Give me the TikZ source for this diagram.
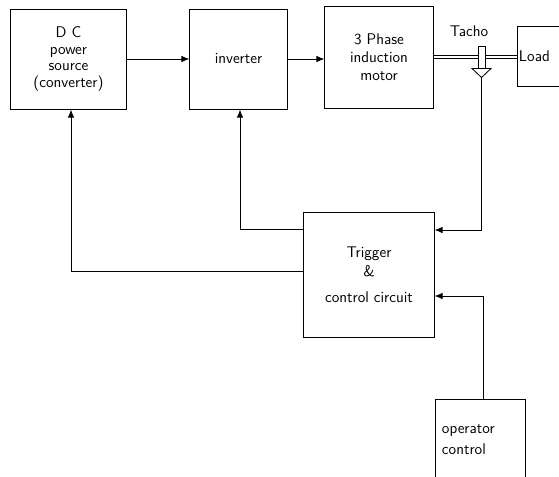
\documentclass[tikz,border=0pt]{standalone}
\usepackage{tikz}
\usetikzlibrary{
    arrows.meta,
    positioning,
    calc
}

\begin{document}
\begin{tikzpicture}[
        x=0.025cm, y=-0.025cm,
        font=\sffamily\fontsize{11}{12}\selectfont,
        block/.style={
            draw,
            line width=0.7pt,
            align=center,
            inner sep=0pt
        },
        arr/.style={
            line width=0.6pt,
            -{Latex[length=2mm,width=1.6mm]}
        }
    ]
    \useasboundingbox (0,0) rectangle (559,476);

    \node[block, minimum width=2.875cm, minimum height=2.5cm] (A) at (68.5,59) {
        D C\\
        power\\
        source\\
        (converter)
    };

    \node[block, minimum width=2.425cm, minimum height=2.5cm] (B) at (238.5,59) {inverter};

    \node[block, minimum width=2.7cm, minimum height=2.55cm] (C) at (379,57) {
        3 Phase\\[1pt]
        induction\\[1pt]
        motor
    };

    \node[block, minimum width=1.5cm, minimum height=1.5cm, text width=1.4cm, align=left] (D) at (547,56) {Load};

    % shaft
    \draw[line width=0.5pt, double, double distance=1.3pt] (C.east) -- (C.east -| D.west);

    \node[block, fill=white, minimum width=0.175cm, minimum height=0.55cm] (T) at (481.5,57) {};
    \node (L) at (469,31) {Tacho};
    \draw[line width=0.6pt, fill=white] ($(T.south)+(-9.5,0)$) -- ($(T.south)+(9.5,0)$) -- ($(T.south)+(0,9)$) coordinate (tip) -- cycle;

    \node[block, minimum width=3.25cm, minimum height=3.125cm] (E) at (369,274.5) {
        Trigger\\[2pt]
        \&\\[6pt]
        control circuit
    };

    \node[block, minimum width=2.25cm, minimum height=2.05cm, text width=1.9cm, align=left] (F) at (480,440) {
        operator\\[3pt]
        control\\[6pt]
    };

    \draw[arr] (A) -- (B);
    \draw[arr] (B.east) -- (B.east -| C.west);
    \draw[arr] ($(E.west)+(0,-45.5)$) -| ($(B.south)+(1.5,0)$);
    \draw[arr] ($(E.west)+(0,-3.5)$) -| ($(A.south)+(2.5,0)$);
    \draw[arr] (tip) |- ($(E.east)+(0,-44.5)$);
    \draw[arr] ($(F.north)+(3,0)$) |- ($(E.east)+(0,21.5)$);

\end{tikzpicture}
\end{document}
